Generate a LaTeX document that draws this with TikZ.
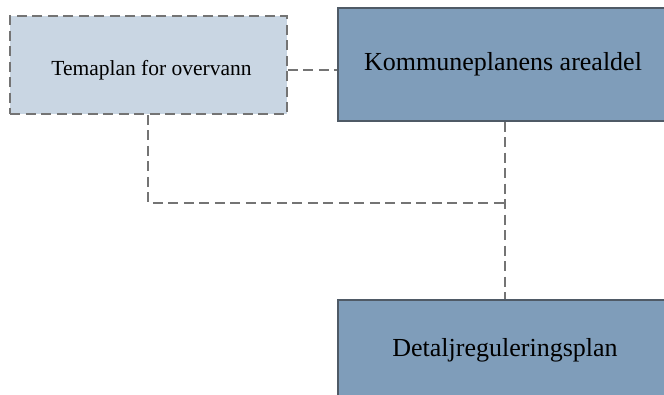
\documentclass[tikz,border=0pt]{standalone}
\usepackage{fontspec}
\setmainfont{Liberation Serif}
\definecolor{lightbox}{HTML}{C9D6E3}
\definecolor{darkbox}{HTML}{7F9DBA}
\definecolor{darkedge}{HTML}{4F5A66}
\definecolor{dashgrey}{HTML}{747474}
\begin{document}
\begin{tikzpicture}[x=1pt,y=-1pt,
  themebox/.style={draw=dashgrey, fill=lightbox, line width=1.6pt, dash pattern=on 10pt off 5.5pt},
  planbox/.style={draw=darkedge, fill=darkbox, line width=1.2pt},
  link/.style={draw=dashgrey, line width=1.6pt, dash pattern=on 10pt off 5.5pt}]
\useasboundingbox (0,0) rectangle (664,394);
\clip (0,0) rectangle (664,394);
\node[themebox, minimum width=277pt, minimum height=98pt, inner sep=0pt] (tema) at (148.5,65) {};
\node[font=\fontsize{21.5}{24}\selectfont, inner sep=0pt] (tematxt) at (151.5,70) {Temaplan for overvann};
\node[planbox, minimum width=330pt, minimum height=113pt, inner sep=0pt, font=\fontsize{26}{30}\selectfont] (komm) at (503,64.5) {Kommuneplanens arealdel};
\node[planbox, minimum width=334pt, minimum height=100pt, inner sep=0pt, font=\fontsize{26}{30}\selectfont] (detalj) at (505,350) {Detaljreguleringsplan};
\coordinate (j) at (505,203);
\draw[link] (tema.east |- 0,70) -- (komm.west |- 0,70);
\draw[link] (tema.south -| 148,0) |- (j);
\draw[link] (komm.south -| j) -- (detalj.north -| j);
\end{tikzpicture}
\end{document}
